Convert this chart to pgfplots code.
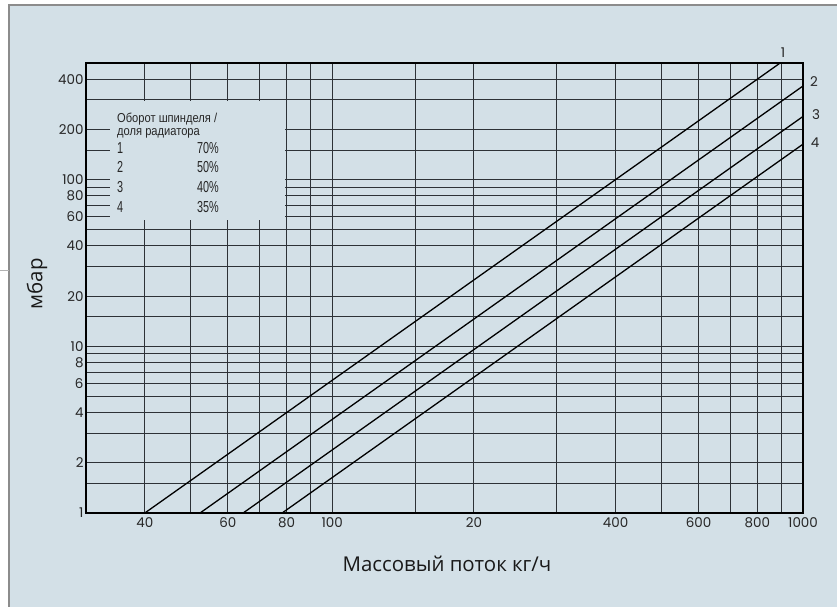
\documentclass[border=0pt]{standalone}
\usepackage{fontspec}
\usepackage{pgfplots}
\pgfplotsset{compat=1.18}
\newfontfamily\numfont{Poppins}
\newfontfamily\labfont{Open Sans}
\newfontfamily\condfont{Liberation Sans}[FakeStretch=0.86]
\newfontfamily\narrowfont{Liberation Sans}[FakeStretch=0.68]
\definecolor{panel}{RGB}{211,224,231}
\definecolor{gridc}{RGB}{45,50,55}

\begin{document}
\begin{tikzpicture}[x=1bp,y=1bp]
\useasboundingbox (0,0) rectangle (837,607);
\fill[white] (0,0) rectangle (837,607);
\fill[panel] (9,0) rectangle (837,602);
\draw[black!45, line width=1.6bp] (9,0) -- (9,602) -- (837,602);
\draw[black!30, line width=0.8bp] (0,337) -- (9,337);
\begin{axis}[
  at={(86bp,94bp)}, anchor=south west,
  width=717bp, height=450bp, scale only axis,
  xmode=log, ymode=log,
  xmin=30, xmax=1000, ymin=1, ymax=500,
  xtick={40,50,60,70,80,90,100,150,200,300,400,500,600,700,800,900,1000},
  xticklabels={40,,60,,80,,100,,20,,400,,600,,800,,1000},
  ytick={1,1.5,2,3,4,5,6,7,8,9,10,15,20,30,40,50,60,70,80,90,100,150,200,300,400},
  yticklabels={1,,2,,4,,6,,8,,10,,20,,40,,60,,80,,100,,200,,400},
  minor tick num=0,
  major tick length=0pt,
  grid=major,
  major grid style={gridc, line width=1bp},
  axis line style={black, line width=1.6bp},
  /pgf/number format/assume math mode=true,
  tick label style={font=\numfont\fontsize{13.5}{14}\selectfont, text=black!85},
  xticklabel style={yshift=-1bp},
  yticklabel style={xshift=1bp},
]
\fill[panel] (axis cs:33.8,57) rectangle (axis cs:79.3,297);
\addplot[black, line width=1.3bp] coordinates {(40,1) (890,495)};
\addplot[black, line width=1.3bp] coordinates {(52.4,1) (1000,364)};
\addplot[black, line width=1.3bp] coordinates {(64.7,1) (1000,239)};
\addplot[black, line width=1.3bp] coordinates {(78.3,1) (1000,163)};
\end{axis}
% curve numbers
\begin{scope}[every node/.style={font=\numfont\fontsize{13.5}{14}\selectfont, text=black!85}]
\node at (783,554) {1};
\node at (814,525) {2};
\node at (816,492) {3};
\node at (815,464) {4};
\end{scope}
% legend box text
\node[anchor=base west, inner sep=0, font=\condfont\fontsize{13}{13}\selectfont, text=black!85] at (117,484) {Оборот шпинделя /};
\node[anchor=base west, inner sep=0, font=\condfont\fontsize{13}{13}\selectfont, text=black!85] at (117,471) {доля радиатора};
\begin{scope}[every node/.style={inner sep=0, font=\narrowfont\fontsize{16}{16}\selectfont, text=black!85}]
\node[anchor=base west] at (117,453) {1};
\node[anchor=base west] at (117,434) {2};
\node[anchor=base west] at (117,414) {3};
\node[anchor=base west] at (117,394) {4};
\node[anchor=base east] at (219,453) {70\%};
\node[anchor=base east] at (219,434) {50\%};
\node[anchor=base east] at (219,414) {40\%};
\node[anchor=base east] at (219,394) {35\%};
\end{scope}
% axis titles
\node[anchor=base, inner sep=0, font=\labfont\fontsize{20.5}{21}\selectfont, text=black!90] at (447,35) {Массовый поток кг/ч};
\node[rotate=90, inner sep=0, font=\labfont\fontsize{20.5}{21}\selectfont, text=black!90] at (37,323) {мбар};
\end{tikzpicture}
\end{document}
